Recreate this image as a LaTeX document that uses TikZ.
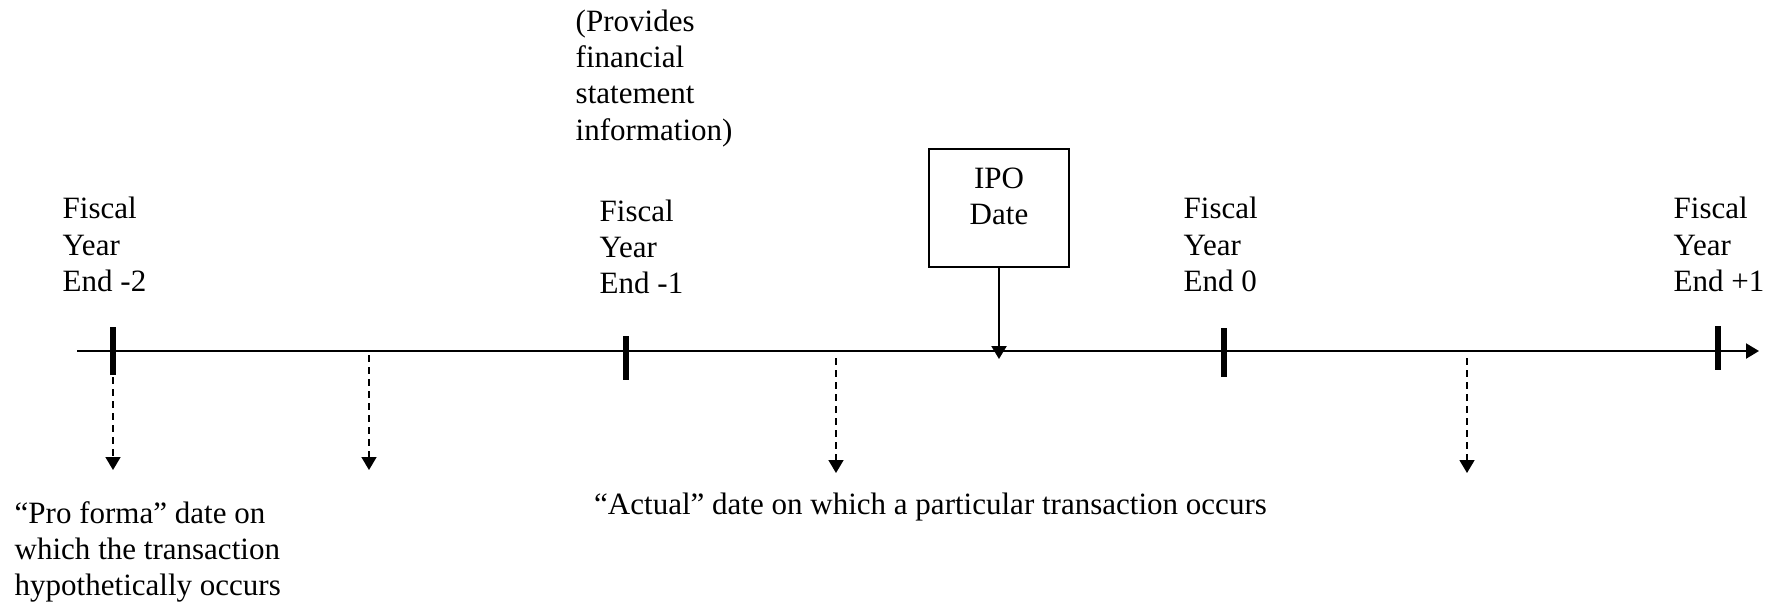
\documentclass[tikz,border=0pt]{standalone}
\usepackage{fontspec}
\setmainfont{Liberation Serif}
\usetikzlibrary{arrows.meta}
\tikzset{
  lbl/.style={anchor=north west, inner sep=0pt, align=left, font=\fontsize{8.82}{10.33}\selectfont},
  yearmark/.style={line width=1.7pt},
  tip/.style={-{Triangle[length=0.13cm,width=0.15cm]}},
  dasharrow/.style={tip, line width=0.45pt, dash pattern=on 0.07cm off 0.05cm},
  ipobox/.style={draw, line width=0.5pt, align=center, font=\fontsize{8.82}{10.33}\selectfont,
    minimum width=1.4cm, inner xsep=0pt, inner ysep=0pt, anchor=north}
}
\begin{document}
\begin{tikzpicture}[x=0.01cm, y=-0.01cm]
\useasboundingbox (0,0) rectangle (1776,605);
\coordinate (start) at (77,351);
\coordinate (stop) at (1759,351);
\draw[tip, line width=0.6pt] (start) -- (stop);
\draw[yearmark] (113,327) -- (113,375);
\draw[yearmark] (626,336) -- (626,380);
\draw[yearmark] (1224,328) -- (1224,377);
\draw[yearmark] (1718,326) -- (1718,370);
\node[lbl] (fym2) at (62,196.5) {Fiscal\\Year\\End -2};
\node[lbl] (fym1) at (599,199) {Fiscal\\Year\\End -1};
\node[lbl] (fy0) at (1183,196.5) {Fiscal\\Year\\End 0};
\node[lbl] (fyp1) at (1673,196.5) {Fiscal\\Year\\End +1};
\node[lbl] (provides) at (575,9) {(Provides\\financial\\statement\\information)};
\node[ipobox, text height=0.76cm, text depth=0.42cm] (ipo) at (999,148) {IPO\\Date};
\coordinate (ipoday) at (999,359);
\draw[tip, line width=0.6pt] (ipo) -- (ipoday);
\coordinate (pa) at (113,377);
\coordinate (pb) at (113,470);
\coordinate (qa) at (369,355);
\coordinate (qb) at (369,470);
\coordinate (ra) at (836,358);
\coordinate (rb) at (836,473);
\coordinate (sa) at (1467,358);
\coordinate (sb) at (1467,473);
\draw[dasharrow] (pa) -- (pb);
\draw[dasharrow] (qa) -- (qb);
\draw[dasharrow] (ra) -- (rb);
\draw[dasharrow] (sa) -- (sb);
\node[lbl] (proforma) at (14,500.7) {“Pro forma” date on\\which the transaction\\hypothetically occurs};
\node[lbl] (actual) at (593.5,492) {“Actual” date on which a particular transaction occurs};
\end{tikzpicture}
\end{document}
